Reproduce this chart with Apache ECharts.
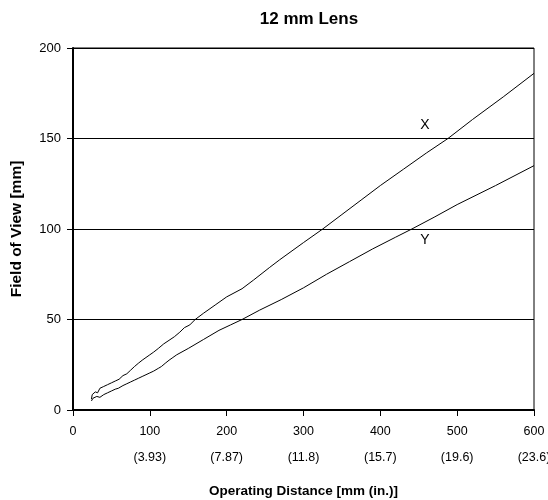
<!DOCTYPE html>
<html>
<head>
<meta charset="utf-8">
<script src="https://cdn.jsdelivr.net/npm/echarts@6/dist/echarts.min.js"></script>
<style>
  html, body { margin: 0; padding: 0; background: #fff; }
  #chart { width: 548px; height: 500px; }
</style>
</head>
<body>
<div id="chart"></div>
<script>
// Field of view versus operating distance for a 12 mm lens
const xTicks = [0, 100, 200, 300, 400, 500, 600];
const inchLabels = ['', '(3.93)', '(7.87)', '(11.8)', '(15.7)', '(19.6)', '(23.6)'];
const yTicks = [0, 50, 100, 150, 200];

// [operating distance mm, field of view mm]
const fovX = [
  [24, 6], [25, 8.5], [27, 7.5], [29, 10], [32, 9.5], [35, 12], [40, 13], [45, 14],
  [50, 15], [55, 16], [60, 17], [65, 19], [70, 20], [75, 22], [80, 24], [85, 25.8],
  [90, 27.5], [95, 29], [100, 30.5], [105, 32], [111, 34], [118, 36.5], [125, 38.5],
  [132, 40.5], [139, 43], [145, 45.5], [152, 47], [159, 50], [170, 53.5], [185, 58],
  [200, 62.5], [220, 67], [235, 71.8], [256, 78.8], [269, 83], [300, 92.5], [325, 100],
  [350, 108], [375, 116], [400, 124], [430, 133], [460, 142], [488, 150], [520, 160.5],
  [560, 173], [600, 186]
];
const fovY = [
  [24, 5], [26, 6.5], [28, 5.5], [31, 7.5], [35, 7], [40, 8.5], [45, 9.5], [50, 10.5],
  [55, 11.5], [59, 12], [65, 13.5], [70, 14.5], [75, 15.5], [80, 16.5], [85, 17.5],
  [90, 18.5], [95, 19.5], [100, 20.5], [105, 21.5], [111, 23], [115, 24], [120, 25.8],
  [125, 27.5], [130, 29], [135, 30.5], [150, 34], [170, 39], [190, 44], [205, 47],
  [220, 50], [243, 55.2], [271, 61], [300, 67.5], [330, 75], [360, 82], [390, 89],
  [420, 95.5], [441, 100], [470, 106.5], [500, 113.5], [550, 124], [600, 135]
];
const seriesNames = ['X', 'Y'];
const labelPos = [[458, 157.5], [458, 94]];

const FONT = "'Liberation Sans', Arial, sans-serif";

const chart = echarts.init(document.getElementById('chart'), null, { renderer: 'canvas' });

function curve(name, data, pos) {
  return {
    name: name,
    type: 'line',
    data: data,
    symbol: 'none',
    smooth: false,
    lineStyle: { color: '#000', width: 1 },
    z: 3,
    markPoint: {
      symbol: 'circle',
      symbolSize: 0,
      data: [{ coord: pos, value: name }],
      label: {
        show: true,
        formatter: name,
        color: '#000',
        fontFamily: FONT,
        fontSize: 14,
        position: 'inside'
      }
    }
  };
}

chart.setOption({
  animation: false,
  backgroundColor: '#fff',
  title: {
    text: '12 mm Lens',
    left: 304,
    textAlign: 'center',
    top: 6,
    textStyle: { fontFamily: FONT, fontWeight: 'bold', fontSize: 17, color: '#000' }
  },
  grid: {
    left: 73, right: 14, top: 48, bottom: 90,
    outerBoundsMode: 'none',
    containLabel: false,
    show: true, borderColor: '#000', borderWidth: 1, backgroundColor: 'transparent'
  },
  xAxis: {
    type: 'value',
    min: xTicks[0], max: xTicks[xTicks.length - 1], interval: 100,
    name: 'Operating Distance [mm (in.)]',
    nameLocation: 'middle',
    nameGap: 74,
    nameTextStyle: { fontFamily: FONT, fontWeight: 'bold', fontSize: 13.5, color: '#000' },
    axisLine: { show: true, onZero: false, lineStyle: { color: '#000', width: 2 } },
    axisTick: { show: true, inside: false, length: 6, lineStyle: { color: '#000', width: 1 } },
    splitLine: { show: false },
    axisLabel: {
      color: '#000', fontFamily: FONT, fontSize: 12.5, margin: 9, lineHeight: 26,
      formatter: function (v) {
        const i = xTicks.indexOf(v);
        return inchLabels[i] ? v + '\n' + inchLabels[i] : String(v);
      },
      verticalAlign: 'top'
    }
  },
  yAxis: {
    type: 'value',
    min: yTicks[0], max: yTicks[yTicks.length - 1], interval: 50,
    name: 'Field of View [mm]',
    nameLocation: 'middle',
    nameGap: 48,
    nameTextStyle: { fontFamily: FONT, fontWeight: 'bold', fontSize: 15.5, color: '#000' },
    axisLine: { show: true, lineStyle: { color: '#000', width: 2 } },
    axisTick: { show: true, inside: false, length: 6, lineStyle: { color: '#000', width: 1 } },
    splitLine: { show: true, lineStyle: { color: '#000', width: 1 } },
    axisLabel: { color: '#000', fontFamily: FONT, fontSize: 13, margin: 12 }
  },
  series: [
    curve(seriesNames[0], fovX, labelPos[0]),
    curve(seriesNames[1], fovY, labelPos[1])
  ]
});
</script>
</body>
</html>
